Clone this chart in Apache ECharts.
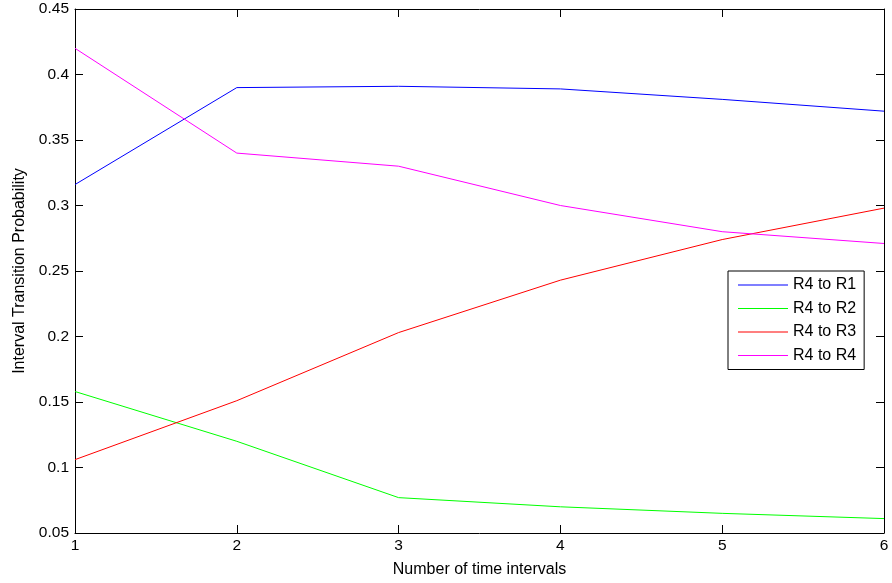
<!DOCTYPE html>
<html>
<head>
<meta charset="utf-8">
<script src="https://cdn.jsdelivr.net/npm/echarts@6/dist/echarts.min.js"></script>
<style>
  html, body { margin: 0; padding: 0; background: #fff; }
  #chart { width: 892px; height: 583px; }
</style>
</head>
<body>
<div id="chart"></div>
<script>
// Number of time intervals
var steps = [1, 2, 3, 4, 5, 6];
// Interval transition probabilities from state R4
var r4toR1 = [0.316, 0.390, 0.391, 0.389, 0.381, 0.372];
var r4toR2 = [0.158, 0.120, 0.077, 0.070, 0.065, 0.061];
var r4toR3 = [0.106, 0.151, 0.203, 0.243, 0.274, 0.298];
var r4toR4 = [0.420, 0.340, 0.330, 0.300, 0.280, 0.271];
var seriesNames = ['R4 to R1', 'R4 to R2', 'R4 to R3', 'R4 to R4'];
var seriesColors = ['#0000ff', '#00ff00', '#ff0000', '#ff00ff'];
var seriesValues = [r4toR1, r4toR2, r4toR3, r4toR4];

var font = 'Liberation Sans, Arial, sans-serif';

function pairs(vals) {
  return vals.map(function (v, i) { return [steps[i], v]; });
}

var series = seriesValues.map(function (vals, i) {
  return {
    name: seriesNames[i],
    type: 'line',
    data: pairs(vals),
    showSymbol: false,
    symbol: 'none',
    lineStyle: { color: seriesColors[i], width: 1 },
    itemStyle: { color: seriesColors[i] },
    animation: false
  };
});

var chart = echarts.init(document.getElementById('chart'), null, { renderer: 'canvas' });

var axisLine = { show: true, lineStyle: { color: '#000', width: 1 } };
var tickStyle = { show: true, inside: true, length: 8, lineStyle: { color: '#000', width: 1 } };

chart.setOption({
  backgroundColor: '#fff',
  animation: false,
  grid: { left: 75, right: 8, top: 9, bottom: 50, containLabel: false },
  legend: {
    orient: 'vertical',
    left: 728,
    top: 271,
    itemWidth: 50,
    itemHeight: 16,
    itemGap: 7.5,
    padding: [6, 8, 6, 10],
    borderColor: '#000',
    borderWidth: 1,
    backgroundColor: '#fff',
    icon: 'path://M0,7.5L50,7.5L50,8.5L0,8.5Z',
    textStyle: { fontFamily: font, fontSize: 16, color: '#000' },
    data: seriesNames.map(function (n, i) {
      return { name: n, itemStyle: { color: seriesColors[i] } };
    })
  },
  xAxis: [{
    type: 'value',
    min: 1, max: 6, interval: 1,
    name: 'Number of time intervals',
    nameLocation: 'middle',
    nameGap: 29,
    nameTextStyle: { fontFamily: font, fontSize: 16, color: '#000', verticalAlign: 'top' },
    axisLine: axisLine,
    axisTick: tickStyle,
    axisLabel: { fontFamily: font, fontSize: 15.5, color: '#000', margin: 5 },
    splitLine: { show: false }
  }, {
    type: 'value', position: 'top',
    min: 1, max: 6, interval: 1,
    axisLine: axisLine,
    axisTick: tickStyle,
    axisLabel: { show: false },
    splitLine: { show: false }
  }],
  yAxis: [{
    type: 'value',
    min: 0.05, max: 0.45, interval: 0.05,
    name: 'Interval Transition Probability',
    nameLocation: 'middle',
    nameGap: 55,
    nameTextStyle: { fontFamily: font, fontSize: 16, color: '#000', verticalAlign: 'middle' },
    axisLine: axisLine,
    axisTick: tickStyle,
    axisLabel: {
      fontFamily: font, fontSize: 15.5, color: '#000', margin: 6,
      formatter: function (v) { return String(parseFloat(v.toFixed(2))); }
    },
    splitLine: { show: false }
  }, {
    type: 'value', position: 'right',
    min: 0.05, max: 0.45, interval: 0.05,
    axisLine: axisLine,
    axisTick: tickStyle,
    axisLabel: { show: false },
    splitLine: { show: false }
  }],
  series: series
});
</script>
</body>
</html>
